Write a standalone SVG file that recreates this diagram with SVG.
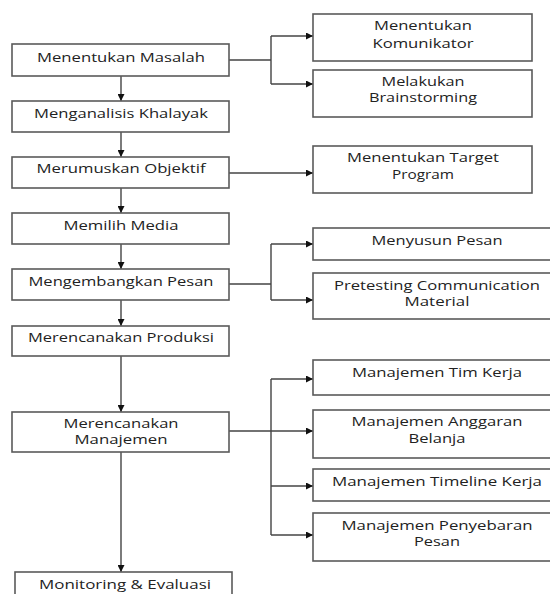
<svg xmlns="http://www.w3.org/2000/svg" width="550" height="594" viewBox="0 0 550 594">
<defs>
<style>
.box{fill:#fff;stroke:#5a5a5a;stroke-width:1.6}
.t{font-family:"Open Sans","Liberation Sans",sans-serif;font-size:12px;fill:#222;text-anchor:middle}
.c{fill:none;stroke:#444;stroke-width:1.4}
</style>
<marker id="ah" viewBox="0 0 10 10" refX="10" refY="5" markerWidth="8" markerHeight="7" markerUnits="userSpaceOnUse" orient="auto">
<path d="M0,0 L10,5 L0,10 z" fill="#111"/>
</marker>
</defs>
<rect width="550" height="594" fill="#fff"/>
<g id="connectors">
<path class="c" d="M121,76 V101" marker-end="url(#ah)"/>
<path class="c" d="M121,132 V157" marker-end="url(#ah)"/>
<path class="c" d="M121,188 V213" marker-end="url(#ah)"/>
<path class="c" d="M121,244 V269" marker-end="url(#ah)"/>
<path class="c" d="M121,300 V326" marker-end="url(#ah)"/>
<path class="c" d="M121,356 V412" marker-end="url(#ah)"/>
<path class="c" d="M121,452 V572" marker-end="url(#ah)"/>
<path class="c" d="M229,60 H271 M271,36 V84"/>
<path class="c" d="M271,36 H313" marker-end="url(#ah)"/>
<path class="c" d="M271,84 H313" marker-end="url(#ah)"/>
<path class="c" d="M229,173 H313" marker-end="url(#ah)"/>
<path class="c" d="M229,284 H271 M271,244 V300"/>
<path class="c" d="M271,244 H313" marker-end="url(#ah)"/>
<path class="c" d="M271,300 H313" marker-end="url(#ah)"/>
<path class="c" d="M229,431 H271 M271,379 V535"/>
<path class="c" d="M271,379 H313" marker-end="url(#ah)"/>
<path class="c" d="M271,431 H313" marker-end="url(#ah)"/>
<path class="c" d="M271,486 H313" marker-end="url(#ah)"/>
<path class="c" d="M271,535 H313" marker-end="url(#ah)"/>
</g>
<g id="n1"><rect class="box" x="12" y="44" width="217" height="32"/><text class="t" x="121" y="62" textLength="168" lengthAdjust="spacingAndGlyphs">Menentukan Masalah</text></g>
<g id="n2"><rect class="box" x="12" y="101" width="217" height="31"/><text class="t" x="121" y="118" textLength="174" lengthAdjust="spacingAndGlyphs">Menganalisis Khalayak</text></g>
<g id="n3"><rect class="box" x="12" y="157" width="217" height="31"/><text class="t" x="121" y="173" textLength="169" lengthAdjust="spacingAndGlyphs">Merumuskan Objektif</text></g>
<g id="n4"><rect class="box" x="12" y="213" width="217" height="31"/><text class="t" x="121" y="230" textLength="115" lengthAdjust="spacingAndGlyphs">Memilih Media</text></g>
<g id="n5"><rect class="box" x="12" y="269" width="217" height="31"/><text class="t" x="121" y="286" textLength="185" lengthAdjust="spacingAndGlyphs">Mengembangkan Pesan</text></g>
<g id="n6"><rect class="box" x="12" y="326" width="217" height="30"/><text class="t" x="121" y="342" textLength="186" lengthAdjust="spacingAndGlyphs">Merencanakan Produksi</text></g>
<g id="n7"><rect class="box" x="12" y="412" width="217" height="40"/><text class="t" x="121" y="428" textLength="115" lengthAdjust="spacingAndGlyphs">Merencanakan</text><text class="t" x="121" y="444" textLength="93" lengthAdjust="spacingAndGlyphs">Manajemen</text></g>
<g id="n8"><rect class="box" x="15" y="572" width="217" height="40"/><text class="t" x="125" y="589" textLength="172" lengthAdjust="spacingAndGlyphs">Monitoring &amp; Evaluasi</text></g>
<g id="r1"><rect class="box" x="313" y="14" width="219" height="47"/><text class="t" x="423" y="30" textLength="98" lengthAdjust="spacingAndGlyphs">Menentukan</text><text class="t" x="423" y="48" textLength="101" lengthAdjust="spacingAndGlyphs">Komunikator</text></g>
<g id="r2"><rect class="box" x="313" y="70" width="219" height="47"/><text class="t" x="423" y="86" textLength="83" lengthAdjust="spacingAndGlyphs">Melakukan</text><text class="t" x="423" y="102" textLength="108" lengthAdjust="spacingAndGlyphs">Brainstorming</text></g>
<g id="r3"><rect class="box" x="313" y="146" width="219" height="47"/><text class="t" x="423" y="162" textLength="152" lengthAdjust="spacingAndGlyphs">Menentukan Target</text><text class="t" x="423" y="179" textLength="62" lengthAdjust="spacingAndGlyphs">Program</text></g>
<g id="r4"><rect class="box" x="313" y="228" width="252" height="32"/><text class="t" x="437" y="245" textLength="131" lengthAdjust="spacingAndGlyphs">Menyusun Pesan</text></g>
<g id="r5"><rect class="box" x="313" y="273" width="252" height="46"/><text class="t" x="437" y="290" textLength="206" lengthAdjust="spacingAndGlyphs">Pretesting Communication</text><text class="t" x="437" y="306" textLength="65" lengthAdjust="spacingAndGlyphs">Material</text></g>
<g id="r6"><rect class="box" x="313" y="360" width="252" height="35"/><text class="t" x="437" y="377" textLength="170" lengthAdjust="spacingAndGlyphs">Manajemen Tim Kerja</text></g>
<g id="r7"><rect class="box" x="313" y="410" width="252" height="48"/><text class="t" x="437" y="426" textLength="171" lengthAdjust="spacingAndGlyphs">Manajemen Anggaran</text><text class="t" x="437" y="443" textLength="57" lengthAdjust="spacingAndGlyphs">Belanja</text></g>
<g id="r8"><rect class="box" x="313" y="469" width="252" height="32"/><text class="t" x="437" y="486" textLength="210" lengthAdjust="spacingAndGlyphs">Manajemen Timeline Kerja</text></g>
<g id="r9"><rect class="box" x="313" y="513" width="252" height="48"/><text class="t" x="437" y="530" textLength="191" lengthAdjust="spacingAndGlyphs">Manajemen Penyebaran</text><text class="t" x="437" y="546" textLength="46" lengthAdjust="spacingAndGlyphs">Pesan</text></g>
</svg>
